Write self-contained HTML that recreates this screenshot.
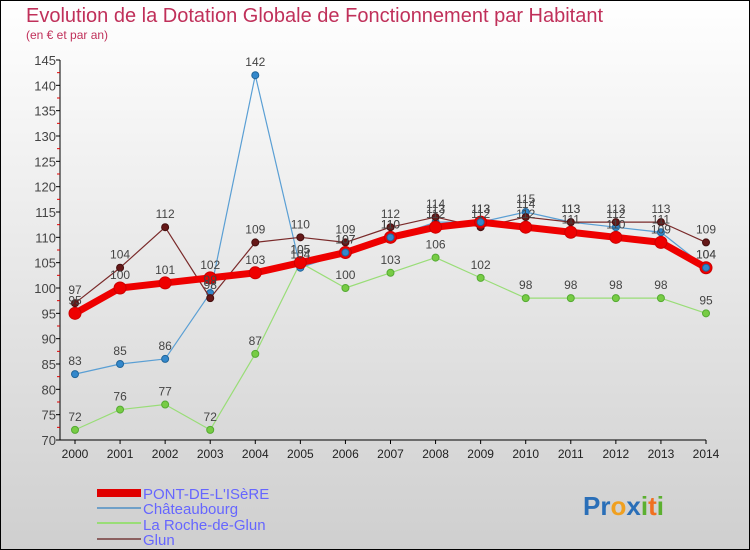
<!DOCTYPE html>
<html><head><meta charset="utf-8"><style>
body{margin:0;width:750px;height:550px;overflow:hidden}
svg{display:block;font-family:"Liberation Sans",sans-serif}
</style></head><body>
<svg id="c" width="750" height="550">
<defs>
<linearGradient id="bg" x1="0" y1="0" x2="0" y2="1"><stop offset="0" stop-color="#ffffff"/><stop offset="1" stop-color="#cfcfcf"/></linearGradient>
</defs>
<rect x="0.5" y="0.5" width="749" height="549" fill="url(#bg)" stroke="#000"/>
<text x="26" y="22" font-size="20" fill="#c0305a">Evolution de la Dotation Globale de Fonctionnement par Habitant</text>
<text x="26" y="39" font-size="12" fill="#c0305a">(en € et par an)</text>
<g id="axes"></g><g id="series"></g><g id="labels"></g>
<g>
<rect x="97" y="489" width="44" height="8" fill="#e00000"/>
<text x="143" y="499" font-size="15" fill="#6666ff">PONT-DE-L'ISèRE</text>
<rect x="97" y="507" width="44" height="2" fill="#6fa0c8"/>
<text x="143" y="514" font-size="15" fill="#6666ff">Châteaubourg</text>
<rect x="97" y="522" width="44" height="2" fill="#99dd77"/>
<text x="143" y="530" font-size="15" fill="#6666ff">La Roche-de-Glun</text>
<rect x="97" y="538" width="44" height="2" fill="#8b6060"/>
<text x="143" y="545" font-size="15" fill="#6666ff">Glun</text>
</g>
<g font-size="26" font-weight="bold">
<text x="583" y="515"><tspan fill="#2a6fb8">Pr</tspan><tspan fill="#f0a020">o</tspan><tspan fill="#2a6fb8">x</tspan><tspan fill="#5cb030">i</tspan><tspan fill="#f07020">t</tspan><tspan fill="#5cb030">i</tspan></text>
</g>
</svg>
<script>
const years=[2000,2001,2002,2003,2004,2005,2006,2007,2008,2009,2010,2011,2012,2013,2014];
const yTicks=[70,75,80,85,90,95,100,105,110,115,120,125,130,135,140,145];
const pont=[95,100,101,102,103,105,107,110,112,113,112,111,110,109,104];
const chateau=[83,85,86,99,142,104,107,110,113,113,115,113,112,111,104];
const roche=[72,76,77,72,87,105,100,103,106,102,98,98,98,98,95];
const glun=[97,104,112,98,109,110,109,112,114,112,114,113,113,113,109];
const NS="http://www.w3.org/2000/svg";
function X(i){return 75+i*(706-75)/(years.length-1);}
function Y(v){return 440-(v-70)*(380/75);}
function mk(tag,attrs,parent){const e=document.createElementNS(NS,tag);for(const k in attrs)e.setAttribute(k,attrs[k]);parent.appendChild(e);return e;}
const ax=document.getElementById('axes'),sg=document.getElementById('series'),lg=document.getElementById('labels');
let a=mk('line',{x1:60,y1:Y(145),x2:60,y2:440,stroke:'#000'},ax);


a=mk('line',{x1:60,y1:440,x2:706,y2:440,stroke:'#000'},ax);


yTicks.forEach(v=>{
 mk('line',{x1:56,y1:Y(v),x2:60,y2:Y(v),stroke:'#000'},ax);
 if(v<145) mk('line',{x1:57,y1:Y(v+2.5),x2:60,y2:Y(v+2.5),stroke:'#e00000'},ax);
 const t=mk('text',{x:56,y:Y(v)+5,'font-size':13,fill:'#444','text-anchor':'end'},ax);t.textContent=v;
 
 
});
years.forEach((y,i)=>{
 mk('line',{x1:X(i),y1:440,x2:X(i),y2:444,stroke:'#000'},ax);
 const t=mk('text',{x:X(i),y:458,'font-size':12,fill:'#222','text-anchor':'middle'},ax);t.textContent=y;
 
 
});
function series(vals,name,color,w,r,fill,stroke,sw){
 const g=mk('g',{},sg);
 
 
 mk('polyline',{points:vals.map((v,i)=>X(i)+','+Y(v)).join(' '),fill:'none',stroke:color,'stroke-width':w,'stroke-linejoin':'round'},g);
 vals.forEach((v,i)=>{
  const c=mk('circle',{cx:X(i),cy:Y(v),r:r,fill:fill,stroke:stroke,'stroke-width':sw},g);
  
  
  const t=mk('text',{x:X(i),y:Y(v)-9,'font-size':12,fill:'#444','text-anchor':'middle'},lg);t.textContent=v;
  
  
 });
}
series(roche,'la-roche','#99dd77',1.2,3.5,'#77cc44','#55aa33',1);
series(chateau,'chateaubourg','#5a9fd4',1.2,3.5,'#3388cc','#22669a',1);
series(glun,'glun','#7a2a2a',1.2,3.5,'#661818','#440f0f',1);
series(pont,'pont','#ee0000',7,6,'#ee0000','#cc0000',1);
// redraw blue/glun points on top for visibility like reference
chateau.forEach((v,i)=>{if([6,7,9,14].includes(i)){const c=mk('circle',{cx:X(i),cy:Y(v),r:3.5,fill:'#3388cc',stroke:'#22669a'},sg);

}});
</script>
</body></html>
